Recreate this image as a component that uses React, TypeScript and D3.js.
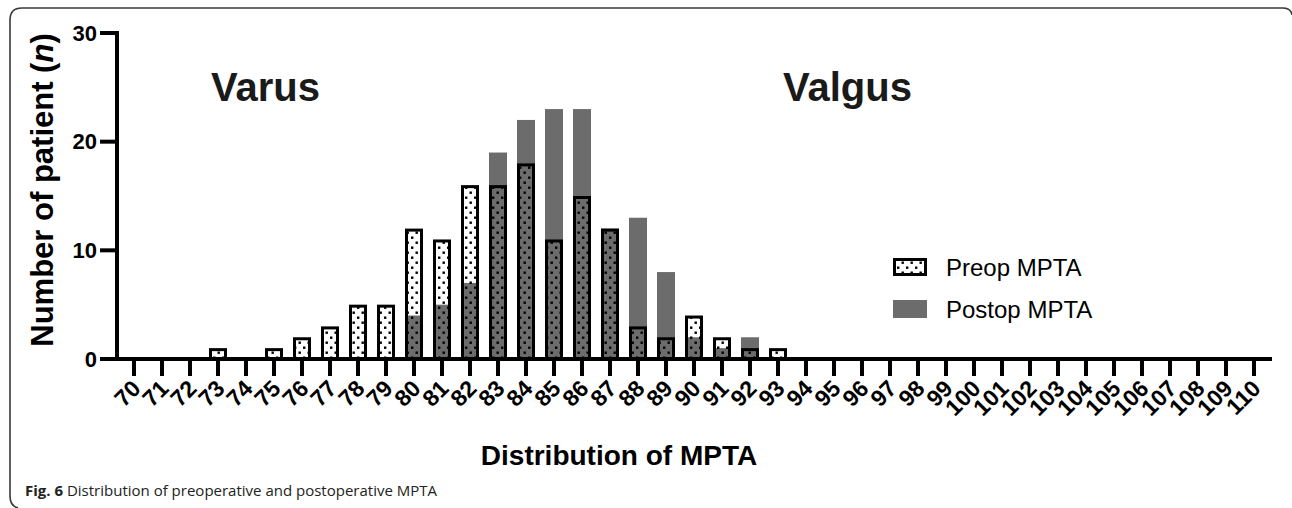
import React from "react";
import * as d3 from "d3";

const categories: string[] = [
  "70","71","72","73","74","75","76","77","78","79",
  "80","81","82","83","84","85","86","87","88","89",
  "90","91","92","93","94","95","96","97","98","99",
  "100","101","102","103","104","105","106","107","108","109","110",
];
const preop: number[] = [
  0, 0, 0, 1, 0, 1, 2, 3, 5, 5,
  12, 11, 16, 16, 18, 11, 15, 12, 3, 2,
  4, 2, 1, 1, 0, 0, 0, 0, 0, 0,
  0, 0, 0, 0, 0, 0, 0, 0, 0, 0, 0,
];
const postop: number[] = [
  0, 0, 0, 0, 0, 0, 0, 0, 0, 0,
  4, 5, 7, 19, 22, 23, 23, 12, 13, 8,
  2, 1, 2, 0, 0, 0, 0, 0, 0, 0,
  0, 0, 0, 0, 0, 0, 0, 0, 0, 0, 0,
];
const yTicks: number[] = [0, 10, 20, 30];
const seriesNames: string[] = ["Preop MPTA", "Postop MPTA"];

const W = 1292;
const H = 508;
const FONT = "'Liberation Sans', Arial, sans-serif";
const GRAY = "#6c6c6c";

export default function App() {
  const x = d3.scaleBand<string>().domain(categories).range([120, 1268]).padding(0);
  const y = d3.scaleLinear().domain([0, 30]).range([359, 33]);
  const bw = 18;
  const cx = (c: string) => (x(c) as number) + x.bandwidth() / 2;

  return (
    <svg
      width={W}
      height={H}
      viewBox={`0 0 ${W} ${H}`}
      style={{ position: "absolute", left: 0, top: 0, background: "#fff" }}
    >
      <defs>
        <pattern id="dots" width="9" height="10" patternUnits="userSpaceOnUse">
          <rect x="1.5" y="1.5" width="2.4" height="2.4" fill="#000" />
          <rect x="6" y="6.5" width="2.4" height="2.4" fill="#000" />
        </pattern>
      </defs>
      <rect x={0} y={0} width={W} height={H} fill="#fff" />
      <path
        d="M 1292 15 Q 1291 8 1283 8 L 22 8 Q 10 8 10 20 L 10 496 Q 10 506 18 508"
        fill="none"
        stroke="#3a3a3a"
        strokeWidth={1.6}
      />

      {categories.map((c, i) =>
        preop[i] > 0 ? (
          <rect key={"pw" + c} x={cx(c) - bw / 2} y={y(preop[i])} width={bw} height={y(0) - y(preop[i])} fill="#fff" />
        ) : null
      )}
      {categories.map((c, i) =>
        postop[i] > 0 ? (
          <rect key={"g" + c} x={cx(c) - bw / 2} y={y(postop[i])} width={bw} height={y(0) - y(postop[i])} fill={GRAY} />
        ) : null
      )}
      {categories.map((c, i) =>
        preop[i] > 0 ? (
          <rect
            key={"pd" + c}
            x={cx(c) - bw / 2 + 1.5}
            y={y(preop[i]) + 1.5}
            width={bw - 3}
            height={y(0) - y(preop[i]) - 1.5}
            fill="url(#dots)"
            stroke="#000"
            strokeWidth={3}
          />
        ) : null
      )}

      <line x1={117} y1={31} x2={117} y2={361} stroke="#000" strokeWidth={4} />
      <line x1={100} y1={359} x2={1272} y2={359} stroke="#000" strokeWidth={4} />
      {yTicks.map((t) => (
        <g key={"yt" + t}>
          <line x1={100} x2={117} y1={y(t)} y2={y(t)} stroke="#000" strokeWidth={4} />
          <text
            x={97}
            y={y(t)}
            textAnchor="end"
            dominantBaseline="central"
            fontFamily={FONT}
            fontWeight="bold"
            fontSize={22}
            fill="#000"
          >
            {t}
          </text>
        </g>
      ))}
      {categories.map((c) => (
        <g key={"xt" + c}>
          <line x1={cx(c)} x2={cx(c)} y1={359} y2={376} stroke="#000" strokeWidth={4} />
          <text
            transform={`translate(${cx(c) + 8},${390}) rotate(-45)`}
            textAnchor="end"
            fontFamily={FONT}
            fontWeight="bold"
            fontSize={23}
            fill="#000"
          >
            {c}
          </text>
        </g>
      ))}

      <text x={211} y={101} fontFamily={FONT} fontWeight="bold" fontSize={40} fill="#1a1a1a">
        Varus
      </text>
      <text x={783} y={101} fontFamily={FONT} fontWeight="bold" fontSize={40} fill="#1a1a1a">
        Valgus
      </text>

      <text
        transform={`translate(53,190) rotate(-90)`}
        textAnchor="middle"
        fontFamily={FONT}
        fontWeight="bold"
        fontSize={31}
        fill="#000"
      >
        Number of patient (<tspan fontStyle="italic">n</tspan>)
      </text>
      <text x={619} y={465} textAnchor="middle" fontFamily={FONT} fontWeight="bold" fontSize={28} fill="#000">
        Distribution of MPTA
      </text>

      <rect x={894.5} y={259.5} width={31} height={15} fill="url(#dots)" stroke="#000" strokeWidth={3} />
      <text x={946} y={276} fontFamily={FONT} fontSize={24} fill="#000">
        {seriesNames[0]}
      </text>
      <rect x={893} y={300} width={34} height={18} fill={GRAY} />
      <text x={946} y={318} fontFamily={FONT} fontSize={24} fill="#000">
        {seriesNames[1]}
      </text>

      <text x={25} y={496} fontFamily="'Open Sans', 'Noto Sans', sans-serif" fontSize={15} fill="#222">
        <tspan fontWeight="bold">Fig. 6</tspan> Distribution of preoperative and postoperative MPTA
      </text>
    </svg>
  );
}
